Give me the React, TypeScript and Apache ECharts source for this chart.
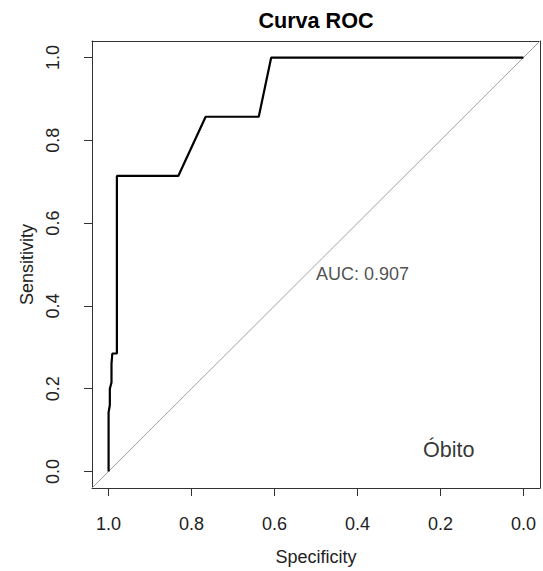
import React, { useEffect, useRef } from "react";
import * as echarts from "echarts";

// ROC curve points (specificity, sensitivity)
const specificity = [1.0, 1.0, 0.997, 0.997, 0.993, 0.993, 0.991, 0.98, 0.98, 0.832, 0.766, 0.638, 0.608, 0.0];
const sensitivity = [0.0, 0.143, 0.16, 0.2, 0.215, 0.26, 0.285, 0.285, 0.714, 0.714, 0.857, 0.857, 1.0, 1.0];
// reference diagonal (spans the full plot box)
const diagSpec = [1.04, -0.04];
const diagSens = [-0.04, 1.04];
const axisMin = -0.04;
const axisMax = 1.04;
const tickValues = [0, 0.2, 0.4, 0.6, 0.8, 1.0];
const aucLabel = "AUC: 0.907";
const aucPos = [0.5, 0.5];
const groupLabel = "Óbito";
const groupPos = [0.18, 0.053];

const FONT = "'Liberation Sans', Arial, Helvetica, sans-serif";

export default function App() {
  const ref = useRef<HTMLDivElement>(null);
  useEffect(() => {
    if (!ref.current) return;
    const chart = echarts.init(ref.current, undefined, { renderer: "svg" });
    const fmt = (v: number) => v.toFixed(1);
    const lineColor = "#333";
    const frameAxis = {
      type: "value",
      min: axisMin,
      max: axisMax,
      axisLine: { show: true, onZero: false, lineStyle: { color: lineColor, width: 1 } },
      axisTick: { show: false },
      axisLabel: { show: false },
      splitLine: { show: false },
    };
    chart.setOption({
      animation: false,
      textStyle: { fontFamily: FONT },
      graphic: [
        {
          type: "text",
          x: 316,
          y: 20,
          style: {
            text: "Curva ROC",
            fontFamily: FONT,
            fontSize: 21.6,
            fontWeight: "bold",
            fill: "#000",
            textAlign: "center",
            textVerticalAlign: "middle",
          },
        },
      ],
      grid: {
        left: 92,
        right: 3,
        top: 41,
        bottom: 83,
      },
      xAxis: [
        {
          type: "value",
          position: "bottom",
          min: axisMin,
          max: axisMax,
          inverse: true,
          name: "Specificity",
          nameLocation: "middle",
          nameGap: 60,
          nameTextStyle: { fontFamily: FONT, fontSize: 18, color: "#222" },
          axisLine: { show: true, onZero: false, lineStyle: { color: lineColor, width: 1 } },
          splitLine: { show: false },
          axisTick: {
            show: true,
            inside: false,
            length: 8,
            customValues: tickValues,
            lineStyle: { color: lineColor, width: 1 },
          },
          axisLabel: {
            show: true,
            customValues: tickValues,
            formatter: fmt,
            margin: 27,
            fontFamily: FONT,
            fontSize: 18,
            color: "#222",
          },
        },
        { ...frameAxis, position: "top", inverse: true },
      ],
      yAxis: [
        {
          type: "value",
          position: "left",
          min: axisMin,
          max: axisMax,
          name: "Sensitivity",
          nameLocation: "middle",
          nameGap: 56,
          nameTextStyle: { fontFamily: FONT, fontSize: 18, color: "#222" },
          axisLine: { show: true, onZero: false, lineStyle: { color: lineColor, width: 1 } },
          splitLine: { show: false },
          axisTick: {
            show: true,
            inside: false,
            length: 8,
            customValues: tickValues,
            lineStyle: { color: lineColor, width: 1 },
          },
          axisLabel: {
            show: true,
            customValues: tickValues,
            formatter: fmt,
            rotate: 90,
            margin: 30,
            fontFamily: FONT,
            fontSize: 18,
            color: "#222",
          },
        },
        { ...frameAxis, position: "right" },
      ],
      series: [
        {
          type: "line",
          data: diagSpec.map((s, i) => [s, diagSens[i]]),
          showSymbol: false,
          symbol: "none",
          lineStyle: { color: "#a0a0a0", width: 1 },
          silent: true,
          z: 1,
        },
        {
          type: "line",
          data: specificity.map((s, i) => [s, sensitivity[i]]),
          showSymbol: false,
          symbol: "none",
          lineStyle: { color: "#000", width: 2.2 },
          silent: true,
          z: 2,
        },
        {
          type: "scatter",
          data: [aucPos],
          symbolSize: 0,
          silent: true,
          label: {
            show: true,
            formatter: aucLabel,
            position: [0, 0],
            align: "left",
            verticalAlign: "top",
            fontFamily: FONT,
            fontSize: 18,
            color: "#222",
          },
          z: 3,
        },
        {
          type: "scatter",
          data: [groupPos],
          symbolSize: 0,
          silent: true,
          label: {
            show: true,
            formatter: groupLabel,
            position: [0, 0],
            align: "center",
            verticalAlign: "middle",
            fontFamily: FONT,
            fontSize: 21.6,
            color: "#000",
          },
          z: 3,
        },
      ],
    });
    return () => chart.dispose();
  }, []);
  return (
    <div
      style={{
        position: "fixed",
        left: 0,
        top: 0,
        width: 543,
        height: 571,
        background: "#fff",
      }}
    >
      <div ref={ref} style={{ width: 543, height: 571 }} />
    </div>
  );
}
